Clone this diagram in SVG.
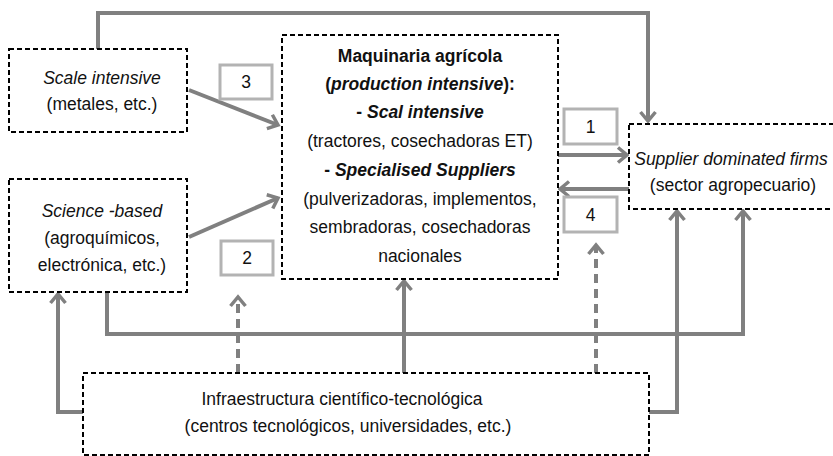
<svg xmlns="http://www.w3.org/2000/svg" width="833" height="456" viewBox="0 0 833 456">
<style>
.box{fill:#fff;stroke:#000;stroke-width:2;stroke-dasharray:5,3}
.lbl{fill:#fff;stroke:#b3b3b3;stroke-width:3}
.t{font-family:"Liberation Sans",Arial,sans-serif;font-size:17.5px;fill:#111;text-anchor:middle}
.c{fill:none;stroke:#808080;stroke-width:4}
.d{stroke-dasharray:9,6}
</style>
<defs>
<marker id="ah" markerUnits="userSpaceOnUse" markerWidth="20" markerHeight="20" viewBox="0 0 20 20" refX="14" refY="10" orient="auto">
<path d="M5,2.5 L14,10 L5,17.5" fill="none" stroke="#808080" stroke-width="3.5"/>
</marker>
</defs>
<rect width="833" height="456" fill="#fff"/>
<g id="connectors">
<path class="c" d="M98,49 V13 H648 V121" marker-end="url(#ah)"/>
<path class="c" d="M189,90 L278,125" marker-end="url(#ah)"/>
<path class="c" d="M189,237 L278,198" marker-end="url(#ah)"/>
<path class="c" d="M558,155 H627" marker-end="url(#ah)"/>
<path class="c" d="M629,189 H560" marker-end="url(#ah)"/>
<path class="c" d="M107,292 V334 H743 V211" marker-end="url(#ah)"/>
<path class="c" d="M404,373 V281" marker-end="url(#ah)"/>
<path class="c" d="M83,412 H58 V294" marker-end="url(#ah)"/>
<path class="c" d="M649,412 H677 V211" marker-end="url(#ah)"/>
<path class="c d" d="M238,373 V297" marker-end="url(#ah)"/>
<path class="c d" d="M596,373 V245" marker-end="url(#ah)"/>
</g>
<g id="scale">
<rect class="box" x="9" y="49" width="178" height="83"/>
<text class="t" x="102" y="84"><tspan font-style="italic">Scale intensive</tspan></text>
<text class="t" x="102" y="110">(metales, etc.)</text>
</g>
<g id="science">
<rect class="box" x="9" y="179" width="178" height="113"/>
<text class="t" x="102" y="217"><tspan font-style="italic">Science -based</tspan></text>
<text class="t" x="102" y="244">(agroquímicos,</text>
<text class="t" x="102" y="271">electrónica, etc.)</text>
</g>
<g id="maquinaria">
<rect class="box" x="282" y="35" width="276" height="244"/>
<text class="t" x="420" y="62" font-weight="bold">Maquinaria agrícola</text>
<text class="t" x="420" y="90" font-weight="bold">(<tspan font-style="italic">production intensive</tspan>):</text>
<text class="t" x="420" y="118" font-weight="bold">- <tspan font-style="italic">Scal intensive</tspan></text>
<text class="t" x="420" y="147">(tractores, cosechadoras ET)</text>
<text class="t" x="420" y="176" font-weight="bold">- <tspan font-style="italic">Specialised Suppliers</tspan></text>
<text class="t" x="420" y="205">(pulverizadoras, implementos,</text>
<text class="t" x="420" y="233">sembradoras, cosechadoras</text>
<text class="t" x="420" y="262">nacionales</text>
</g>
<g id="supplier">
<rect class="box" x="629" y="124" width="210" height="85"/>
<text class="t" x="731" y="165"><tspan font-style="italic">Supplier dominated firms</tspan></text>
<text class="t" x="733" y="191">(sector agropecuario)</text>
</g>
<g id="infra">
<rect class="box" x="83" y="373" width="566" height="82"/>
<text class="t" x="342" y="405">Infraestructura científico-tecnológica</text>
<text class="t" x="348" y="432">(centros tecnológicos, universidades, etc.)</text>
</g>
<g id="label1"><rect class="lbl" x="564" y="109" width="53" height="35"/><text class="t" x="590.5" y="133">1</text></g>
<g id="label2"><rect class="lbl" x="221" y="241" width="52" height="34"/><text class="t" x="247" y="264">2</text></g>
<g id="label3"><rect class="lbl" x="220" y="65" width="52" height="34"/><text class="t" x="246" y="88">3</text></g>
<g id="label4"><rect class="lbl" x="564" y="197" width="53" height="35"/><text class="t" x="590.5" y="221">4</text></g>
</svg>
